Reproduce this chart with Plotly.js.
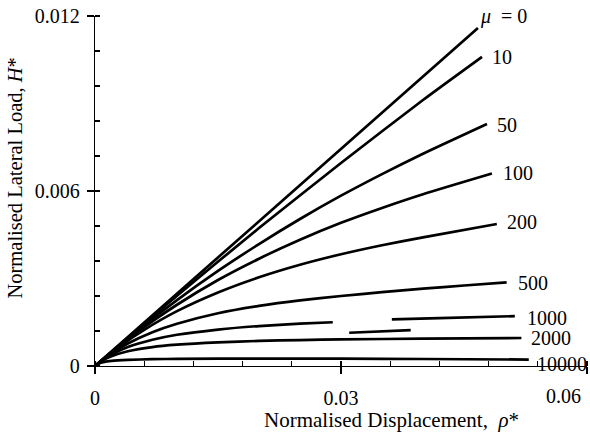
<!DOCTYPE html>
<html>
<head>
<meta charset="utf-8">
<script src="https://cdn.plot.ly/plotly-3.0.1.min.js"></script>
<style>html,body{margin:0;padding:0;background:#fff;}#chart{width:590px;height:437px;}</style>
</head>
<body>
<div id="chart"></div>
<script>
// ---- data ----
const rho_mu0 = [0, 0.0235, 0.0467];
const H_mu0   = [0, 0.00583, 0.01159];

const rho_mu10 = [0, 0.01, 0.02, 0.03, 0.04, 0.0472];
const H_mu10   = [0, 0.00241, 0.00473, 0.00696, 0.00912, 0.0106];

const rho_mu50 = [0, 0.005, 0.01, 0.015, 0.02, 0.025, 0.03, 0.035, 0.04, 0.0478];
const H_mu50   = [0, 0.00118, 0.00226, 0.00326, 0.00418, 0.00504, 0.00584, 0.00658, 0.00728, 0.0083];

const rho_mu100 = [0, 0.005, 0.01, 0.015, 0.02, 0.025, 0.03, 0.035, 0.04, 0.0484];
const H_mu100   = [0, 0.00113, 0.0021, 0.00295, 0.00368, 0.00433, 0.00491, 0.00542, 0.00589, 0.0066];

const rho_mu200 = [0, 0.003, 0.006, 0.01, 0.015, 0.02, 0.025, 0.03, 0.035, 0.04, 0.049];
const H_mu200   = [0, 0.000675, 0.00124, 0.00188, 0.00252, 0.00304, 0.00347, 0.00383, 0.00414, 0.00441, 0.00487];

const rho_mu500 = [0, 0.002, 0.004, 0.007, 0.01, 0.015, 0.02, 0.025, 0.03, 0.035, 0.04, 0.045, 0.0502];
const H_mu500   = [0, 0.00043, 0.00077, 0.00116, 0.00145, 0.00181, 0.00206, 0.00225, 0.0024, 0.00253, 0.00265, 0.00276, 0.00287];

// the 1000 curve is broken into pieces in the reference
const rho_mu1000 = [0, 0.001, 0.002, 0.004, 0.007, 0.01, 0.015, 0.02, 0.025, 0.029, null, 0.031, 0.0385, null, 0.0362, 0.042, 0.0512];
const H_mu1000   = [0, 0.00022, 0.00039, 0.00065, 0.0009, 0.00107, 0.00125, 0.00137, 0.00145, 0.0015, null, 0.00114, 0.00123, null, 0.0016, 0.00164, 0.00171];

const rho_mu2000 = [0, 0.001, 0.002, 0.004, 0.007, 0.01, 0.015, 0.02, 0.025, 0.03, 0.04, 0.052];
const H_mu2000   = [0, 0.0002, 0.000334, 0.000506, 0.00065, 0.00073, 0.00081, 0.00086, 0.00089, 0.00091, 0.00094, 0.00096];

const rho_mu10000 = [0, 0.0005, 0.001, 0.002, 0.004, 0.007, 0.01, 0.02, 0.03, 0.04, 0.0529];
const H_mu10000   = [0, 0.000085, 0.00013, 0.000175, 0.00021, 0.000234, 0.000244, 0.000254, 0.00025, 0.00024, 0.00022];

const muLabels = ['<i>\u03bc</i>  = 0', '10', '50', '100', '200', '500', '1000', '2000', '10000'];
const xTickVals = [0, 0.03, 0.06];
const xTickText = ['0', '0.03', ''];
const yTickVals = [0, 0.006, 0.012];
const yTickText = ['0', '0.006', '0.012'];

// ---- chart ----
const FONT = '"Liberation Serif", "Times New Roman", Times, serif';
const series = [
  [rho_mu0, H_mu0], [rho_mu10, H_mu10], [rho_mu50, H_mu50], [rho_mu100, H_mu100],
  [rho_mu200, H_mu200], [rho_mu500, H_mu500], [rho_mu1000, H_mu1000],
  [rho_mu2000, H_mu2000], [rho_mu10000, H_mu10000]
];
const traces = series.map((s, i) => ({
  x: s[0], y: s[1], type: 'scatter', mode: 'lines',
  name: muLabels[i], connectgaps: false,
  line: {color: '#000', width: 2.7, shape: 'spline', smoothing: 0.6},
  xaxis: i === 8 ? 'x2' : 'x', yaxis: i === 8 ? 'y2' : 'y',
  showlegend: false, hoverinfo: 'skip'
}));

// label positions (data units) next to the end of each curve
const labelPos = [
  [0.04976, 0.01197], [0.04963, 0.01059], [0.0503, 0.00826], [0.0516, 0.00662],
  [0.05207, 0.00494], [0.05341, 0.00285], [0.05512, 0.00165], [0.05567, 0.00096], [0.05701, 0.00007]
];
const annotations = muLabels.map((t, i) => ({
  x: labelPos[i][0], y: labelPos[i][1], xref: 'x', yref: 'y',
  text: t, showarrow: false, xanchor: 'center', yanchor: 'middle',
  font: {family: FONT, size: 20, color: '#000'}
}));
annotations.push({
  x: 0.9919, y: -0.0857, xref: 'paper', yref: 'paper', text: '0.06',
  showarrow: false, xanchor: 'right', yanchor: 'middle',
  font: {family: FONT, size: 20, color: '#000'}
});
annotations.push({
  x: 0.3394, y: -0.154, xref: 'paper', yref: 'paper',
  text: 'Normalised Displacement,  <i>\u03c1</i>*',
  showarrow: false, xanchor: 'left', yanchor: 'middle',
  font: {family: FONT, size: 21, color: '#000'}
});
annotations.push({
  x: -0.1646, y: 0.5357, xref: 'paper', yref: 'paper',
  text: 'Normalised Lateral Load, <i>H</i>*', textangle: -90,
  showarrow: false, xanchor: 'center', yanchor: 'middle',
  font: {family: FONT, size: 20.5, color: '#000'}
});

const xRange = [0, 0.06], yRange = [0, 0.012];
const layout = {
  width: 590, height: 437,
  margin: {l: 95, r: 3, t: 16, b: 71, pad: 0},
  paper_bgcolor: '#fff', plot_bgcolor: '#fff',
  font: {family: FONT, size: 20, color: '#000'},
  xaxis: {
    range: xRange, showgrid: false, zeroline: false,
    showline: true, linecolor: '#000', linewidth: 1.3,
    tickmode: 'array', tickvals: xTickVals, ticktext: xTickText,
    ticks: 'outside', ticklen: 7, tickwidth: 1.3, tickcolor: '#000',
    ticklabelstandoff: 7,
    minor: {ticks: 'inside', dtick: 0.006, tick0: 0, ticklen: 5, tickwidth: 1.2, tickcolor: '#000', showgrid: false},
    tickfont: {family: FONT, size: 20, color: '#000'}
  },
  yaxis: {
    range: yRange, showgrid: false, zeroline: false,
    showline: true, linecolor: '#000', linewidth: 1.3,
    tickmode: 'array', tickvals: yTickVals, ticktext: yTickText,
    ticks: 'outside', ticklen: 7, tickwidth: 1.3, tickcolor: '#000',
    ticklabelstandoff: 3,
    minor: {ticks: 'inside', dtick: 0.0012, tick0: 0, ticklen: 5, tickwidth: 1.2, tickcolor: '#000', showgrid: false},
    tickfont: {family: FONT, size: 20, color: '#000'}
  },
  xaxis2: {
    range: xRange, overlaying: 'x', anchor: 'y2', side: 'bottom',
    showgrid: false, zeroline: false, showline: false,
    tickmode: 'array', tickvals: xTickVals, ticks: 'inside', ticklen: 4,
    tickwidth: 1.3, tickcolor: '#000', showticklabels: false
  },
  yaxis2: {
    range: yRange, overlaying: 'y', anchor: 'x2', side: 'left',
    showgrid: false, zeroline: false, showline: false,
    tickmode: 'array', tickvals: yTickVals, ticks: 'inside', ticklen: 5,
    tickwidth: 1.3, tickcolor: '#000', showticklabels: false
  },
  annotations: annotations,
  showlegend: false
};

Plotly.newPlot('chart', traces, layout, {displayModeBar: false, staticPlot: true});
</script>
</body>
</html>
